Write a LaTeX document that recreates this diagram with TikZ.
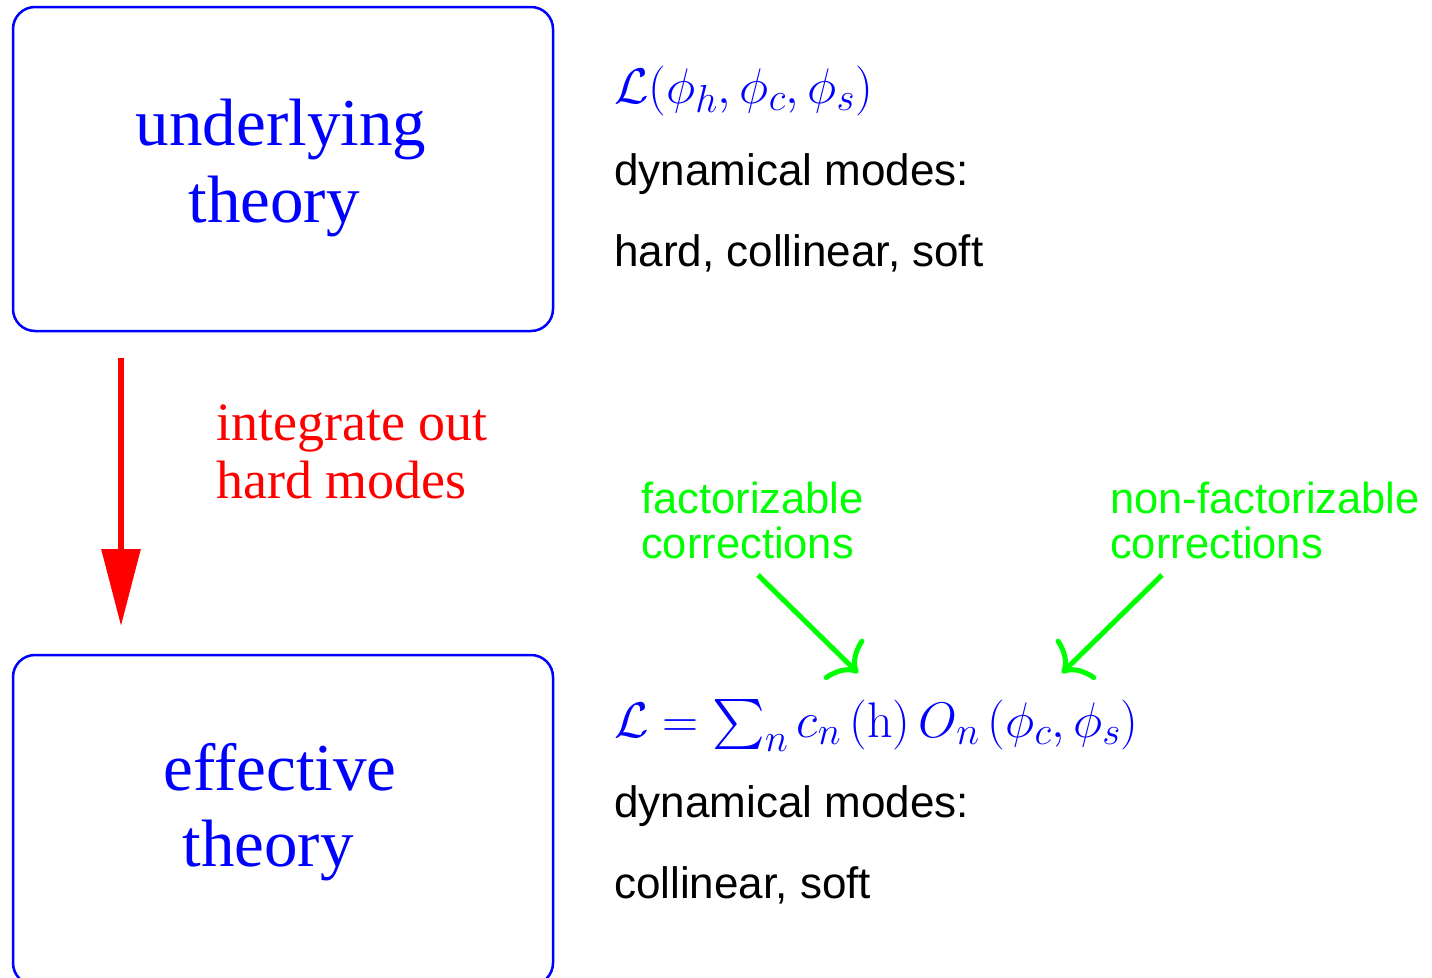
\RequirePackage{fix-cm}
\documentclass[tikz,border=0pt]{standalone}
\usepackage{exscale}
\usepackage[no-math]{fontspec}
\setmainfont{Liberation Serif}
\setsansfont{Liberation Sans}
\usetikzlibrary{arrows.meta}
\DeclareFontShape{OMX}{cmex}{m}{n}{<->cmex10}{}
\DeclareMathSizes{50}{50}{39}{30}
\definecolor{pblue}{RGB}{0,0,255}
\definecolor{pgreen}{RGB}{0,255,0}
\definecolor{pred}{RGB}{255,0,0}
\tikzset{
  boxframe/.style={draw=pblue, line width=2.5pt, rounded corners=22pt},
  boxtext/.style={inner sep=0pt, anchor=base, text=pblue, font=\fontsize{67}{77}\selectfont},
  redtext/.style={inner sep=0pt, anchor=base west, text=pred, font=\fontsize{54}{60}\selectfont},
  blacktext/.style={inner sep=0pt, anchor=base west, text=black, font=\sffamily\fontsize{44}{50}\selectfont},
  greentext/.style={inner sep=0pt, anchor=base west, text=pgreen, font=\sffamily\fontsize{43.5}{50}\selectfont},
  mathtext/.style={inner sep=0pt, anchor=base west, text=pblue, font=\fontsize{50}{60}\selectfont},
  redarrow/.style={draw=pred, line width=6pt, -{Triangle[length=77pt,width=38pt]}},
  greenarrow/.style={draw=pgreen, line width=5pt, -{Computer Modern Rightarrow[length=22pt,width=56pt]}},
}
\begin{document}
\begin{tikzpicture}[x=1pt,y=-1pt]
\clip (0,0) rectangle (1432,977);
\useasboundingbox (0,0) rectangle (1432,977);
% boxes
\draw[boxframe] (13,7) rectangle (553,331);
\draw[boxframe] (13,655) rectangle (553,985);
\node[boxtext] (u1) at (281,145) {underlying};
\node[boxtext] (u2) at (274,222) {theory};
\node[boxtext] (e1) at (280,790) {effective};
\node[boxtext] (e2) at (268,866) {theory};
% red arrow
\coordinate (rs) at (121,358);
\coordinate (re) at (121,626);
\draw[redarrow] (rs) -- (re);
\node[redtext] (r1) at (216,440) {integrate out};
\node[redtext] (r2) at (216,498) {hard modes};
% upper right text
\node[mathtext] (m1) at (614,103) {$\mathcal{L}(\phi_h,\phi_c,\phi_s)$};
\node[blacktext] (t1) at (614,185) {dynamical modes:};
\node[blacktext] (t2) at (614,266) {hard, collinear, soft};
% green labels
\node[greentext] (g1) at (641,513) {factorizable};
\node[greentext] (g2) at (641,558) {corrections};
\node[greentext] (g3) at (1110,513) {non-factorizable};
\node[greentext] (g4) at (1110,558) {corrections};
\coordinate (a1s) at (758,575);
\coordinate (a1e) at (858,673);
\coordinate (a2s) at (1162,575);
\coordinate (a2e) at (1062,673);
\draw[greenarrow] (a1s) -- (a1e);
\draw[greenarrow] (a2s) -- (a2e);
% lower right text
\node[mathtext] (m2) at (614,737) {$\mathcal{L}=\sum_n c_n\,(\mathrm{h})\,O_n\,(\phi_c,\phi_s)$};
\node[blacktext] (t3) at (614,817) {dynamical modes:};
\node[blacktext] (t4) at (614,898) {collinear, soft};
\end{tikzpicture}
\end{document}
